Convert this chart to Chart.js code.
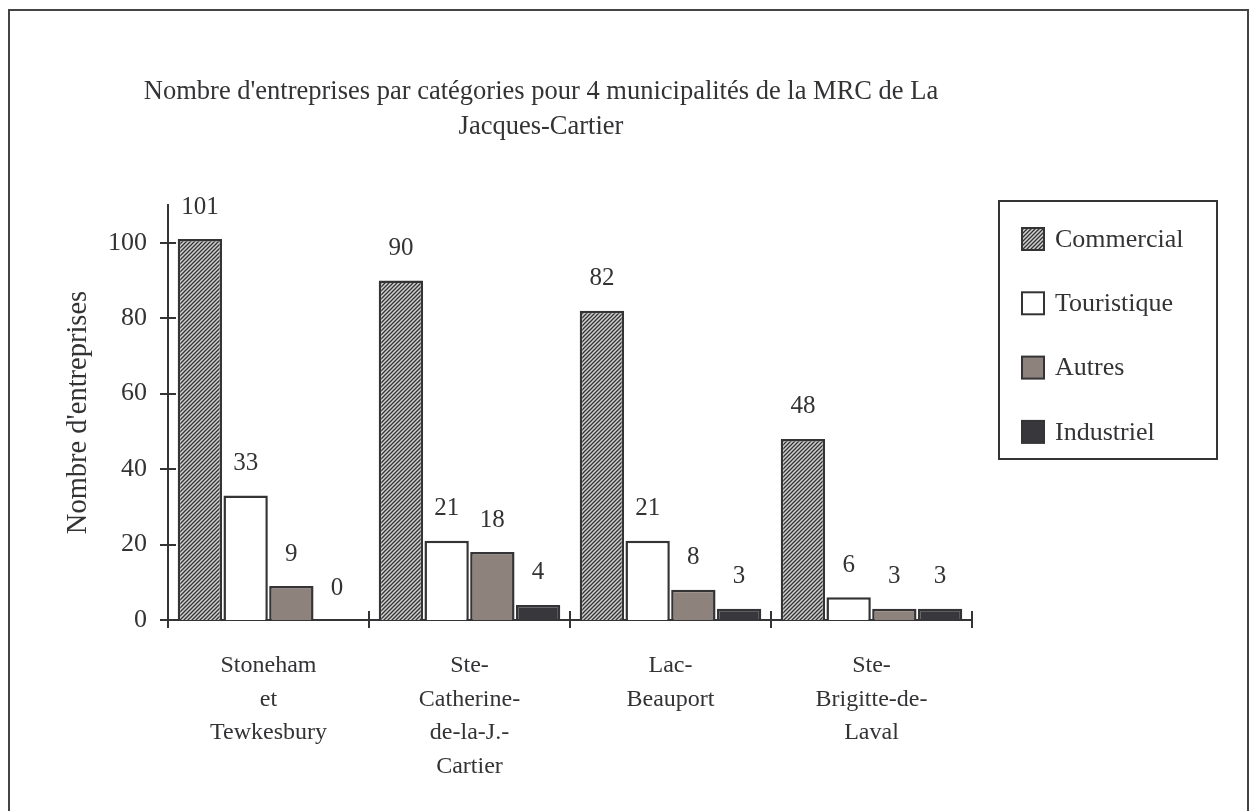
<!DOCTYPE html>
<html>
<head>
<meta charset="utf-8">
<script src="https://cdn.jsdelivr.net/npm/chart.js@4.4.1/dist/chart.umd.min.js"></script>
<style>
	html, body { margin: 0; padding: 0; background: #fff; }
	#wrap { position: relative; width: 1257px; height: 811px; }
</style>
</head>
<body>
<div id="wrap"><canvas id="chart" width="1257" height="811"></canvas></div>
<script>
// Données du graphique
const categories = [
	[ 'Stoneham', 'et', 'Tewkesbury' ],
	[ 'Ste-', 'Catherine-', 'de-la-J.-', 'Cartier' ],
	[ 'Lac-', 'Beauport' ],
	[ 'Ste-', 'Brigitte-de-', 'Laval' ],
];
const seriesNames = [ 'Commercial', 'Touristique', 'Autres', 'Industriel' ];
const commercial = [ 101, 90, 82, 48 ];
const touristique = [ 33, 21, 21, 6 ];
const autres = [ 9, 18, 8, 3 ];
const industriel = [ 0, 4, 3, 3 ];
const yTicks = [ 0, 20, 40, 60, 80, 100 ];
const titleLines = [
	"Nombre d'entreprises par catégories pour 4 municipalités de la MRC de La",
	'Jacques-Cartier',
];
const yTitle = "Nombre d'entreprises";

const FONT = "'Liberation Serif', 'Times New Roman', serif";
const INK = '#333336';
const LINE = '#343437';

/**
 * Motif hachuré pour la série Commercial
 */
function makeHatch() {
	const c = document.createElement( 'canvas' );
	c.width = 4;
	c.height = 4;
	const g = c.getContext( '2d' );
	g.fillStyle = '#d0d0d0';
	g.fillRect( 0, 0, 4, 4 );
	g.strokeStyle = '#333333';
	g.lineWidth = 1.3;
	g.beginPath();
	g.moveTo( 0, 4 );
	g.lineTo( 4, 0 );
	g.moveTo( -1, 1 );
	g.lineTo( 1, -1 );
	g.moveTo( 3, 5 );
	g.lineTo( 5, 3 );
	g.stroke();
	return g.createPattern( c, 'repeat' );
}

const hatch = makeHatch();
const fills = [ hatch, '#ffffff', '#8e827d', '#38373c' ];
const seriesValues = [ commercial, touristique, autres, industriel ];

// Cadre, titre, graduations croisées, étiquettes et légende
const decorPlugin = {
	id: 'decor',
	beforeDraw( chart ) {
		const ctx = chart.ctx;
		ctx.save();
		ctx.strokeStyle = '#444';
		ctx.lineWidth = 2;
		ctx.strokeRect( 9, 10, 1239, 830 );
		ctx.restore();
	},
	afterDatasetsDraw( chart ) {
		const ctx = chart.ctx;
		ctx.save();
		ctx.fillStyle = INK;
		ctx.font = '25px ' + FONT;
		ctx.textAlign = 'center';
		ctx.textBaseline = 'middle';
		chart.data.datasets.forEach( ( ds, i ) => {
			chart.getDatasetMeta( i ).data.forEach( ( bar, j ) => {
				ctx.fillText( String( ds.data[ j ] ), bar.x, bar.y - 32 );
			} );
		} );
		ctx.restore();
	},
	afterDraw( chart ) {
		const ctx = chart.ctx;
		const xs = chart.scales.x;
		const ys = chart.scales.y;
		const area = chart.chartArea;
		ctx.save();

		// graduations qui traversent les axes
		ctx.strokeStyle = LINE;
		ctx.lineWidth = 2;
		ctx.beginPath();
		yTicks.forEach( ( v ) => {
			const y = Math.round( ys.getPixelForValue( v ) );
			ctx.moveTo( area.left - 8, y );
			ctx.lineTo( area.left + 8, y );
		} );
		for ( let i = 0; i <= categories.length; i++ ) {
			const x = Math.round( xs.getPixelForValue( i - 0.5 ) );
			ctx.moveTo( x, area.bottom - 9 );
			ctx.lineTo( x, area.bottom + 8 );
		}
		ctx.stroke();

		// titre
		ctx.fillStyle = INK;
		ctx.font = '26.5px ' + FONT;
		ctx.textAlign = 'center';
		ctx.textBaseline = 'middle';
		titleLines.forEach( ( t, i ) => {
			ctx.fillText( t, 541, 92 + i * 35 );
		} );

		// légende
		ctx.strokeStyle = LINE;
		ctx.lineWidth = 2;
		ctx.strokeRect( 999, 201, 218, 258 );
		ctx.font = '26px ' + FONT;
		ctx.textAlign = 'left';
		chart.data.datasets.forEach( ( ds, i ) => {
			const cy = 239 + i * 64.3;
			ctx.fillStyle = ds.backgroundColor;
			ctx.fillRect( 1022, cy - 11, 22, 22 );
			ctx.lineWidth = 2;
			ctx.strokeStyle = LINE;
			ctx.strokeRect( 1022, cy - 11, 22, 22 );
			ctx.fillStyle = INK;
			ctx.fillText( ds.label, 1055, cy + 1 );
		} );
		ctx.restore();
	},
};

new Chart( document.getElementById( 'chart' ), {
	type: 'bar',
	data: {
		labels: categories,
		datasets: seriesNames.map( ( name, i ) => ( {
			label: name,
			data: seriesValues[ i ],
			backgroundColor: fills[ i ],
			borderColor: LINE,
			borderWidth: 2.5,
			categoryPercentage: 0.91,
			barPercentage: 0.97,
		} ) ),
	},
	options: {
		responsive: false,
		animation: false,
		layout: {
			padding: { top: 205, right: 285, bottom: 11, left: 0 },
		},
		scales: {
			x: {
				grid: { display: false, drawTicks: false, tickLength: 0 },
				border: { display: true, color: LINE, width: 2 },
				ticks: {
					color: INK,
					padding: 29,
					maxRotation: 0,
					autoSkip: false,
					font: { family: FONT, size: 24, lineHeight: 1.4 },
				},
				afterFit( scale ) {
					scale.height = 180;
				},
			},
			y: {
				min: 0,
				max: 110,
				grid: { display: false, drawTicks: false, tickLength: 0 },
				border: { display: true, color: LINE, width: 2 },
				afterBuildTicks( scale ) {
					scale.ticks = yTicks.map( ( v ) => ( { value: v } ) );
				},
				ticks: {
					color: INK,
					padding: 21,
					font: { family: FONT, size: 26 },
				},
				title: {
					display: true,
					text: yTitle,
					color: INK,
					padding: { top: 61, bottom: 0 },
					font: { family: FONT, size: 28.5, lineHeight: 1.2 },
				},
				afterFit( scale ) {
					scale.width = 168;
				},
			},
		},
		plugins: {
			legend: { display: false },
			tooltip: { enabled: false },
		},
	},
	plugins: [ decorPlugin ],
} );
</script>
</body>
</html>
